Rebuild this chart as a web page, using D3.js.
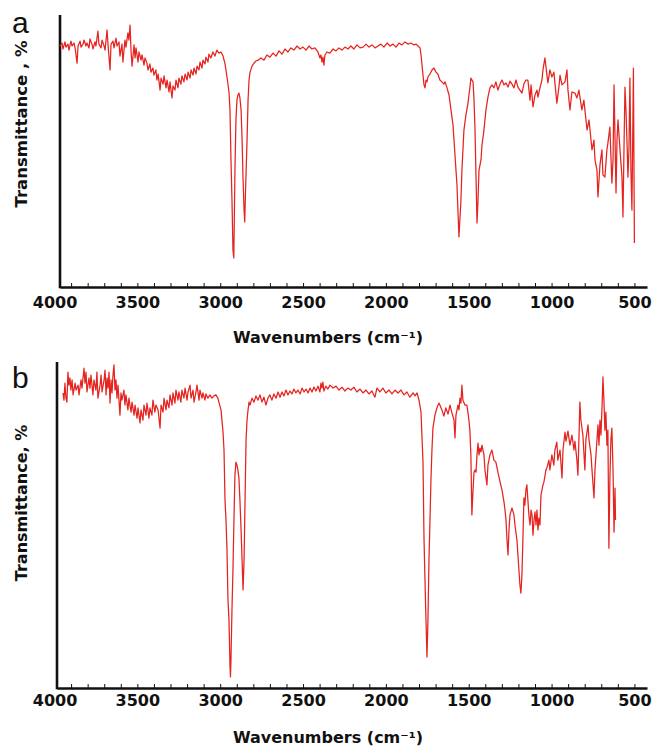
<!DOCTYPE html>
<html>
<head>
<meta charset="utf-8">
<style>
  body { margin: 0; background: #fff; }
  .axis path, .axis line { stroke: #111; }
  .axis .domain { stroke-width: 2.6px; }
  .minor line { stroke-width: 1px; }
  .tick-lbl text { font-family: "DejaVu Sans", Verdana, sans-serif; font-weight: bold; font-size: 16px; fill: #111; }
  .x-title, .y-title { font-family: "DejaVu Sans", Verdana, sans-serif; font-weight: bold; font-size: 16px; fill: #111; }
  .panel-letter { font-family: "Liberation Sans", Arial, sans-serif; font-size: 30px; fill: #111; }
  .spectrum { fill: none; stroke: #e5231f; stroke-width: 1.25px; stroke-linejoin: round; }
</style>
<script src="https://cdn.jsdelivr.net/npm/d3@7/dist/d3.min.js"></script>
</head>
<body>
<svg class="chart" width="655" height="746"></svg>
<script>
// tick labels on the wavenumber axis (cm-1)
var majorTicks = [4000, 3500, 3000, 2500, 2000, 1500, 1000, 500];
var minorTicks = d3.range(3900, 499, -100);

// spectrum a : [wavenumber, transmittance]
var specA = [
  [3967,88.6],[3955,89.7],[3949,87.5],[3937,90.1],[3931,88.2],[3919,89.3],[3913,87.1],[3901,90.4],
  [3894,88.6],[3882,89.7],[3876,87.9],[3864,82.3],[3858,88.6],[3846,90.4],[3840,88.2],[3828,89.3],
  [3822,90.8],[3810,88.6],[3804,89.7],[3792,87.9],[3786,91.2],[3774,89.3],[3768,87.5],[3756,90.1],
  [3750,88.6],[3738,94.1],[3732,89.3],[3719,87.9],[3713,90.8],[3701,88.6],[3695,87.1],[3683,94.5],
  [3677,89.0],[3665,79.8],[3659,89.3],[3647,90.4],[3641,87.9],[3629,91.5],[3623,88.6],[3611,90.1],
  [3605,84.9],[3593,89.3],[3587,82.7],[3575,90.8],[3569,88.2],[3557,93.4],[3551,90.8],[3544,96.3],
  [3538,86.4],[3532,81.2],[3520,89.0],[3514,84.2],[3508,87.9],[3496,82.7],[3490,86.4],[3478,83.4],
  [3472,85.3],[3460,81.6],[3454,84.2],[3442,82.3],[3436,79.8],[3424,82.0],[3418,79.0],[3406,80.5],
  [3400,77.9],[3388,79.8],[3382,76.1],[3375,78.3],[3363,72.4],[3357,76.8],[3345,74.6],[3339,77.6],
  [3327,73.2],[3321,76.1],[3309,71.7],[3303,75.4],[3291,69.5],[3285,73.9],[3273,72.4],[3267,76.1],
  [3255,73.2],[3249,76.8],[3237,74.6],[3231,77.6],[3219,75.4],[3212,78.3],[3200,76.1],[3194,79.0],
  [3182,76.8],[3176,79.8],[3164,77.9],[3158,80.5],[3146,78.3],[3140,81.2],[3128,79.8],[3122,82.7],
  [3110,80.5],[3104,83.4],[3092,82.0],[3086,84.5],[3074,82.7],[3068,85.6],[3056,84.2],[3044,86.4],
  [3032,84.9],[3020,87.1],[3008,86.0],[2995,86.4],[2983,84.9],[2971,82.0],[2959,77.2],[2947,71.7],
  [2941,65.1],[2935,46.7],[2929,32.0],[2923,13.6],[2918,10.7],[2911,43.0],[2905,61.4],[2899,68.7],
  [2893,70.6],[2887,71.3],[2881,69.5],[2874,65.1],[2868,54.0],[2862,39.3],[2856,28.3],[2852,23.9],
  [2847,35.7],[2838,54.0],[2832,68.7],[2826,76.1],[2820,79.0],[2808,81.2],[2796,82.3],[2784,83.1],
  [2772,83.4],[2754,84.2],[2736,83.4],[2718,85.3],[2700,84.5],[2681,86.0],[2663,84.9],[2645,86.8],
  [2627,85.6],[2609,87.5],[2591,86.4],[2573,87.9],[2555,87.1],[2537,88.6],[2518,87.5],[2500,88.2],
  [2482,87.1],[2464,88.6],[2446,87.5],[2428,87.9],[2410,86.4],[2398,84.2],[2392,85.3],[2386,82.7],
  [2380,84.5],[2374,81.6],[2368,85.3],[2356,86.4],[2338,86.0],[2319,87.5],[2301,86.8],[2283,87.9],
  [2265,87.1],[2247,88.2],[2229,87.5],[2211,88.6],[2193,87.5],[2175,89.0],[2156,87.9],[2138,88.2],
  [2120,89.3],[2102,88.2],[2084,89.0],[2066,87.9],[2048,88.6],[2030,89.3],[2012,88.2],[1993,89.7],
  [1975,88.6],[1957,89.3],[1939,88.2],[1921,89.7],[1903,89.0],[1885,90.1],[1867,89.3],[1849,89.7],
  [1830,89.0],[1818,89.3],[1806,88.6],[1794,87.9],[1788,85.3],[1782,81.6],[1776,77.9],[1770,74.3],
  [1764,73.2],[1758,76.1],[1752,75.4],[1746,77.2],[1734,78.3],[1722,79.8],[1710,80.5],[1698,79.0],
  [1686,78.3],[1674,76.1],[1662,75.4],[1650,74.6],[1643,75.4],[1631,73.2],[1619,70.6],[1607,65.1],
  [1595,59.6],[1583,48.5],[1571,37.5],[1559,18.4],[1547,32.0],[1541,43.0],[1529,57.7],[1517,63.2],
  [1505,67.3],[1499,70.6],[1493,73.2],[1487,76.8],[1474,75.4],[1468,68.7],[1462,57.7],[1456,40.4],
  [1450,23.5],[1444,32.0],[1438,43.0],[1426,46.7],[1420,52.2],[1408,57.7],[1396,65.1],[1384,69.8],
  [1372,73.2],[1360,74.3],[1348,73.2],[1336,75.4],[1324,72.4],[1311,74.6],[1299,76.1],[1287,74.3],
  [1275,75.0],[1263,73.5],[1251,75.7],[1239,74.6],[1227,73.2],[1215,76.1],[1203,73.5],[1191,72.4],
  [1179,71.3],[1167,74.6],[1155,76.1],[1143,76.1],[1130,68.7],[1124,74.3],[1112,66.2],[1100,70.6],
  [1088,72.4],[1082,69.8],[1070,73.2],[1058,76.1],[1052,79.8],[1040,84.2],[1028,77.9],[1022,75.0],
  [1010,79.8],[998,77.2],[986,79.0],[968,67.6],[955,73.9],[949,77.9],[937,74.3],[919,75.4],
  [907,79.8],[901,72.4],[889,65.1],[877,71.7],[859,71.3],[847,69.5],[835,72.4],[817,65.1],
  [805,68.7],[786,57.7],[774,61.4],[756,50.4],[744,54.0],[738,46.7],[726,43.0],[720,33.1],
  [708,44.8],[696,50.4],[690,41.2],[678,40.4],[666,50.4],[660,52.9],[648,58.8],[636,38.2],
  [629,46.7],[623,74.3],[611,34.6],[605,54.0],[599,61.4],[587,50.4],[575,40.4],[569,25.7],
  [563,50.4],[557,73.5],[551,65.1],[545,54.0],[539,40.4],[533,50.4],[527,76.8],[521,43.0],
  [515,28.3],[509,61.4],[506,80.5],[500,16.2]
];

// spectrum b : [wavenumber, transmittance]
var specB = [
  [3949,90.5],[3943,88.3],[3937,93.5],[3931,88.9],[3925,87.7],[3919,96.9],[3913,92.9],[3907,95.1],
  [3901,91.4],[3894,94.5],[3888,89.9],[3876,93.5],[3870,91.4],[3858,92.9],[3852,89.9],[3840,94.5],
  [3834,92.0],[3822,98.1],[3816,93.5],[3810,96.9],[3804,90.8],[3792,95.1],[3786,92.0],[3780,96.0],
  [3768,89.9],[3762,94.5],[3750,91.4],[3744,96.9],[3738,88.9],[3725,92.9],[3719,96.0],[3713,90.8],
  [3701,94.5],[3695,97.5],[3689,89.9],[3683,95.1],[3677,92.0],[3671,96.9],[3665,87.4],[3659,94.5],
  [3653,90.5],[3647,96.0],[3641,99.1],[3635,91.4],[3629,94.5],[3623,88.9],[3617,92.9],[3605,83.7],
  [3599,90.5],[3593,88.3],[3581,91.4],[3575,86.8],[3569,89.9],[3557,85.3],[3551,88.9],[3538,84.6],
  [3532,87.7],[3520,83.7],[3514,86.8],[3502,82.8],[3496,85.9],[3484,81.3],[3478,85.3],[3466,82.2],
  [3460,86.8],[3448,83.7],[3442,87.4],[3430,82.8],[3424,85.9],[3412,83.7],[3406,88.3],[3394,84.6],
  [3388,86.8],[3375,85.3],[3363,79.7],[3357,86.8],[3345,84.6],[3339,88.9],[3327,85.3],[3321,88.3],
  [3309,85.9],[3303,89.9],[3291,86.8],[3285,90.5],[3273,87.4],[3267,91.4],[3255,88.3],[3249,90.8],
  [3237,87.7],[3231,91.4],[3219,88.9],[3212,92.0],[3200,88.3],[3194,90.8],[3182,92.9],[3176,88.9],
  [3164,91.4],[3158,87.7],[3146,90.8],[3140,92.9],[3128,88.3],[3122,91.4],[3110,88.9],[3104,90.5],
  [3092,88.3],[3086,90.2],[3074,88.9],[3062,89.9],[3050,88.9],[3038,89.6],[3026,89.9],[3014,88.9],
  [3008,87.7],[2995,85.3],[2983,78.5],[2977,73.0],[2971,57.7],[2965,51.5],[2959,42.3],[2953,27.0],
  [2947,20.9],[2941,7.1],[2938,3.4],[2935,8.6],[2929,23.9],[2923,36.2],[2917,51.5],[2911,65.3],
  [2905,69.3],[2899,68.4],[2893,66.9],[2887,64.4],[2881,57.7],[2874,48.5],[2868,39.3],[2862,30.1],
  [2856,39.3],[2850,57.7],[2844,76.1],[2838,82.2],[2832,85.3],[2826,87.7],[2820,86.8],[2808,88.9],
  [2796,87.7],[2784,89.6],[2772,88.3],[2760,89.9],[2748,87.7],[2736,89.2],[2724,86.8],[2712,88.9],
  [2700,89.9],[2688,88.3],[2676,90.2],[2663,88.9],[2651,90.8],[2639,89.2],[2627,90.8],[2615,89.6],
  [2603,91.4],[2591,89.9],[2579,91.1],[2567,90.2],[2555,91.7],[2543,90.5],[2531,91.4],[2518,90.2],
  [2506,92.0],[2494,90.8],[2482,91.7],[2470,90.5],[2458,92.0],[2446,90.8],[2434,92.3],[2422,91.1],
  [2410,92.6],[2398,90.8],[2392,93.5],[2386,92.0],[2380,93.8],[2374,91.1],[2362,92.6],[2350,91.7],
  [2338,92.9],[2319,92.0],[2301,92.6],[2283,91.4],[2265,92.3],[2247,91.1],[2229,92.0],[2211,91.4],
  [2193,92.3],[2175,90.8],[2156,91.7],[2138,90.5],[2120,91.4],[2102,90.2],[2084,91.1],[2066,89.2],
  [2054,92.0],[2036,90.8],[2018,92.0],[2000,90.5],[1981,91.4],[1963,90.2],[1945,91.4],[1927,90.5],
  [1909,91.4],[1891,89.9],[1873,90.8],[1855,89.2],[1836,90.5],[1824,89.6],[1812,90.5],[1800,88.3],
  [1788,84.6],[1776,69.3],[1770,46.0],[1764,33.1],[1758,20.9],[1752,9.5],[1746,20.9],[1740,39.3],
  [1734,50.9],[1728,63.8],[1722,73.0],[1716,79.7],[1704,83.7],[1692,85.9],[1680,87.4],[1674,86.8],
  [1662,85.3],[1650,83.4],[1638,85.9],[1625,84.0],[1613,86.8],[1601,84.3],[1589,82.2],[1583,76.7],
  [1577,83.7],[1565,86.8],[1559,85.3],[1553,88.9],[1547,87.4],[1541,92.9],[1535,88.3],[1523,86.8],
  [1511,86.8],[1505,84.6],[1499,82.2],[1493,79.1],[1487,71.5],[1481,53.1],[1474,60.7],[1468,66.2],
  [1462,66.9],[1456,66.2],[1450,71.5],[1444,75.1],[1438,71.5],[1432,73.6],[1426,72.4],[1420,74.5],
  [1414,73.0],[1408,71.5],[1402,66.9],[1390,62.3],[1384,68.4],[1372,71.5],[1360,73.0],[1348,69.9],
  [1336,69.3],[1324,66.2],[1311,63.2],[1299,60.7],[1287,57.0],[1281,54.6],[1275,51.5],[1269,45.4],
  [1263,40.8],[1257,48.5],[1251,53.1],[1239,55.2],[1227,53.1],[1221,50.0],[1209,45.4],[1197,36.2],
  [1191,31.6],[1185,29.1],[1179,34.7],[1173,45.4],[1167,58.3],[1161,56.1],[1155,60.7],[1149,62.3],
  [1143,57.7],[1137,53.1],[1130,50.0],[1124,54.6],[1118,53.1],[1112,46.9],[1106,51.5],[1100,54.0],
  [1094,50.0],[1088,54.6],[1082,48.5],[1076,52.1],[1070,50.0],[1064,59.2],[1052,62.3],[1046,63.2],
  [1034,66.9],[1028,67.5],[1016,69.9],[1010,66.9],[998,71.5],[986,68.4],[980,73.0],[968,75.4],
  [962,69.9],[949,73.0],[937,64.4],[931,73.0],[919,78.5],[913,75.7],[901,78.8],[889,74.5],
  [877,77.6],[865,73.0],[859,75.7],[847,69.9],[841,65.3],[835,76.1],[829,87.7],[823,82.2],
  [811,77.6],[799,66.9],[793,76.1],[780,80.7],[774,76.1],[762,71.5],[756,66.9],[744,58.3],
  [738,66.9],[726,76.1],[720,80.7],[714,74.5],[708,82.2],[702,77.6],[696,85.3],[690,95.4],
  [684,88.3],[678,79.1],[672,84.6],[666,74.5],[660,79.1],[654,42.9],[648,63.8],[642,76.1],
  [636,79.7],[629,66.9],[623,47.8],[617,61.3],[614,51.5]
];

// frame of each panel on the page
var panels = [
  { letter: "a", data: specA, ylabel: "Transmittance , %", ylabelSize: 16.5,
    left: 60, right: 647, top: 15, bottom: 287, xmin: 3967, xmax: 424,
    tickY: 308, titleY: 343, ylabelY: 124, letterY: 33 },
  { letter: "b", data: specB, ylabel: "Transmittance, %", ylabelSize: 16,
    left: 57, right: 647, top: 362, bottom: 688, xmin: 3985, xmax: 424,
    tickY: 706, titleY: 743, ylabelY: 503, letterY: 388 }
];

var svg = d3.select(".chart");

panels.forEach(function(p) {
  var x = d3.scaleLinear()
      .domain([p.xmin, p.xmax])
      .range([p.left, p.right]);

  var y = d3.scaleLinear()
      .domain([0, 100])
      .range([p.bottom, p.top]);

  var g = svg.append("g").attr("class", "panel");

  // small inward ticks every 100 cm-1
  g.append("g")
      .attr("class", "axis minor")
      .attr("transform", "translate(0," + p.bottom + ")")
      .call(d3.axisBottom(x).tickValues(minorTicks).tickSize(-4).tickFormat(""))
    .select(".domain").remove();

  // labelled axis (the 4000 label sits just left of the frame)
  var xAxis = g.append("g")
      .attr("class", "axis tick-lbl")
      .attr("transform", "translate(0," + p.bottom + ")")
      .call(d3.axisBottom(x)
        .tickValues(majorTicks)
        .tickFormat(d3.format("d"))
        .tickSize(0).tickSizeOuter(0).tickPadding(0));
  xAxis.selectAll(".tick text")
      .attr("y", p.tickY - p.bottom)
      .attr("dy", 0);

  // y axis: plain thick line, no ticks
  g.append("g")
      .attr("class", "axis")
      .attr("transform", "translate(" + p.left + ",0)")
      .call(d3.axisLeft(y).tickValues([]).tickSizeOuter(0))
    .select(".domain")
      .attr("d", "M0," + (p.top) + "V" + (p.bottom + 1.3));

  var line = d3.line()
      .x(function(d) { return x(d[0]); })
      .y(function(d) { return y(d[1]); });

  g.append("path")
      .datum(p.data)
      .attr("class", "spectrum")
      .attr("d", line);

  g.append("text")
      .attr("class", "x-title")
      .attr("x", 328)
      .attr("y", p.titleY)
      .style("text-anchor", "middle")
      .text("Wavenumbers (cm\u207B\u00B9)");

  g.append("text")
      .attr("class", "y-title")
      .attr("transform", "translate(27," + p.ylabelY + ") rotate(-90)")
      .style("text-anchor", "middle")
      .style("font-size", p.ylabelSize + "px")
      .text(p.ylabel);

  g.append("text")
      .attr("class", "panel-letter")
      .attr("x", 12)
      .attr("y", p.letterY)
      .text(p.letter);
});
</script>
</body>
</html>
